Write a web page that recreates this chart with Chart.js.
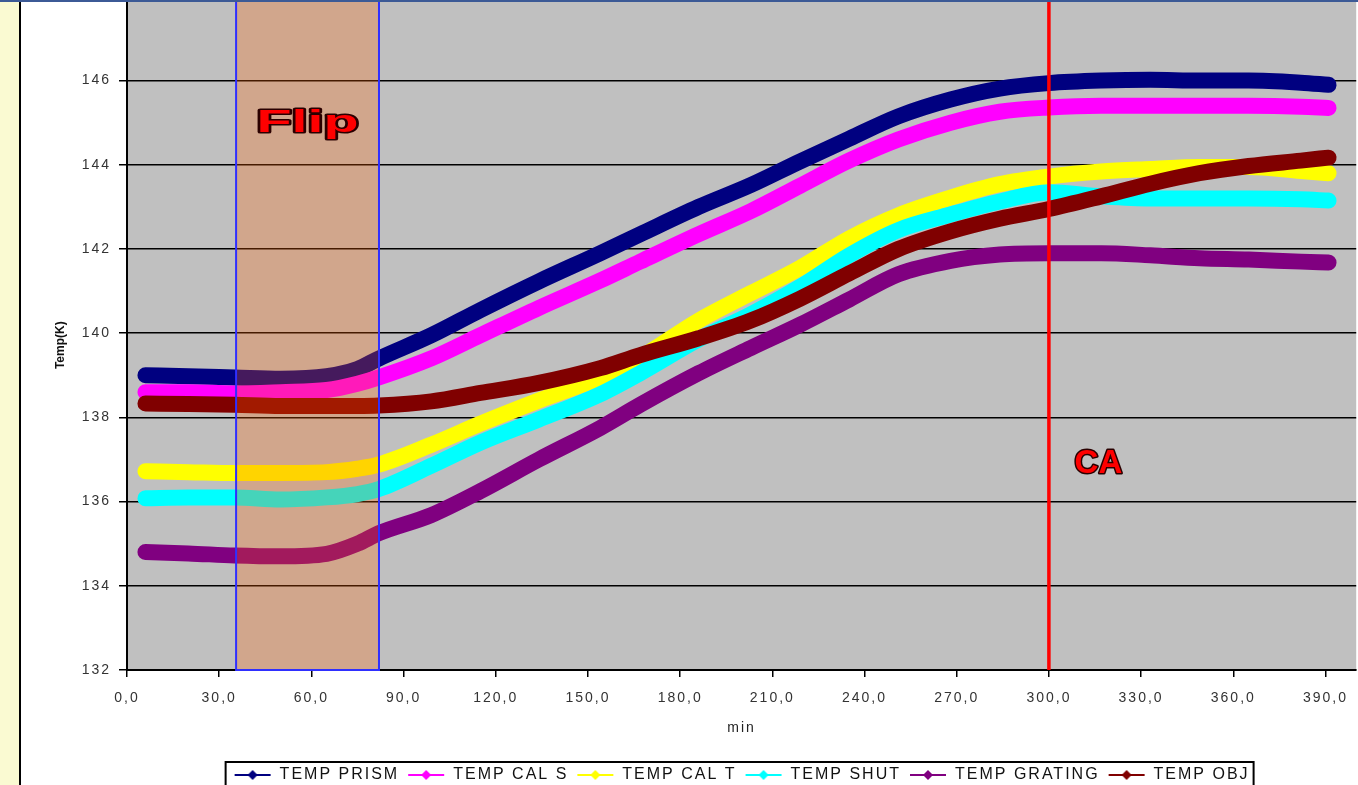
<!DOCTYPE html>
<html><head><meta charset="utf-8">
<script src="https://cdn.jsdelivr.net/npm/chart.js@4/dist/chart.umd.min.js"></script>
<style>
html,body{margin:0;padding:0;width:1358px;height:785px;overflow:hidden;background:#FAFAD2;}
#panel{position:absolute;left:19px;top:0;width:1339px;height:785px;background:#fff;border-left:2px solid #000;box-sizing:border-box;}
#topline{position:absolute;left:0;top:0;width:1358px;height:2px;background:#3c5a96;}
#wrap{position:absolute;left:0;top:-20px;width:1361px;height:830px;}
</style></head><body>
<div id="panel"></div>
<div id="wrap"><canvas id="c" width="1361" height="830"></canvas></div>
<div id="topline"></div>
<script>
// time (min)
const times   = [6, 20, 35, 50, 65, 75, 82, 99, 115, 134, 154, 167, 186, 203, 219, 235, 251, 268, 284, 300, 317, 333, 349, 365, 382, 391];
const prism   = [139.0,138.98,138.95,138.92,138.98,139.15, 139.4,139.95,140.55,141.23,141.9,142.35,143.0,143.52,144.08,144.62,145.15,145.55,145.81,145.94,146.0,146.02,146.0,146.0,145.95,145.9];
const calS    = [138.6,138.6,138.57,138.6,138.65,138.8, 138.95,139.4,139.95,140.6,141.25,141.7,142.35,142.9,143.5,144.1,144.6,145.0,145.26,145.36,145.4,145.4,145.4,145.4,145.38,145.35];
const calT    = [136.72,136.7,136.68,136.68,136.7,136.78, 136.88,137.35,137.85,138.4,138.95,139.42,140.3,140.95,141.55,142.25,142.8,143.22,143.54,143.72,143.84,143.9,143.95,143.95,143.85,143.8];
const shut    = [136.08,136.1,136.1,136.05,136.1,136.18, 136.3,136.85,137.4,137.95,138.55,139.05,139.85,140.45,141.1,141.85,142.45,142.82,143.13,143.35,143.25,143.2,143.2,143.2,143.18,143.15];
const grating = [134.8,134.77,134.72,134.7,134.76,135.0, 135.25,135.68,136.25,137.0,137.75,138.3,139.05,139.65,140.2,140.8,141.4,141.72,141.87,141.9,141.9,141.85,141.78,141.75,141.7,141.68];
const obj     = [138.33,138.32,138.3,138.27,138.27,138.27, 138.28,138.38,138.58,138.82,139.17,139.48,139.88,140.3,140.82,141.42,142.0,142.42,142.72,142.95,143.25,143.55,143.8,143.97,144.1,144.17];

const seriesNames  = ['TEMP PRISM','TEMP CAL S','TEMP CAL T','TEMP SHUT','TEMP GRATING','TEMP OBJ'];
const seriesValues = [prism, calS, calT, shut, grating, obj];
const seriesColors = ['#000080','#FF00FF','#FFFF00','#00FFFF','#800080','#800000'];

const xTicks = [0,30,60,90,120,150,180,210,240,270,300,330,360,390];
const yTicks = [132,134,136,138,140,142,144,146,148];
const FLIP_START = 35.5, FLIP_END = 82, CA_TIME = 300;
const yTitle = 'Temp(K)', xTitle = 'min';

const FONT = '"Liberation Sans", Arial, sans-serif';
const SPACING = '2px';

function markerImage(color){
  const c = document.createElement('canvas'); c.width = 38; c.height = 12;
  const g = c.getContext('2d');
  g.strokeStyle = color; g.lineWidth = 2;
  g.beginPath(); g.moveTo(1,6); g.lineTo(37,6); g.stroke();
  g.fillStyle = color;
  g.beginPath(); g.moveTo(19,1); g.lineTo(24,6); g.lineTo(19,11); g.lineTo(14,6); g.closePath(); g.fill();
  return c;
}
const markers = seriesColors.map(markerImage);

const spacing = {
  id:'spacing',
  beforeUpdate(chart){ chart.ctx.letterSpacing = SPACING; },
  beforeLayout(chart){ chart.ctx.letterSpacing = SPACING; },
  afterLayout(chart){
    const lg = chart.legend, a = chart.chartArea;
    const shift = (a.left + a.right) / 2 - (lg.left + lg.right) / 2;
    lg.left += shift; lg.right += shift;
  },
  beforeDraw(chart){
    const {ctx, chartArea:a} = chart;
    ctx.letterSpacing = SPACING;
    ctx.save();
    ctx.fillStyle = '#C0C0C0';
    ctx.fillRect(a.left, a.top, a.right - a.left, a.bottom - a.top);
    ctx.restore();
  }
};

function outlinedText(ctx, text, x, y, size, sx){
  ctx.save();
  ctx.letterSpacing = '0px';
  ctx.translate(x, y);
  ctx.scale(sx, 1);
  ctx.font = 'bold ' + size + 'px ' + FONT;
  ctx.textAlign = 'center';
  ctx.textBaseline = 'alphabetic';
  ctx.lineJoin = 'round';
  ctx.lineWidth = 3;
  ctx.strokeStyle = '#2a0000';
  ctx.strokeText(text, 0, 0);
  ctx.fillStyle = '#FF0000';
  ctx.fillText(text, 0, 0);
  ctx.restore();
}

const annot = {
  id:'annot',
  afterDatasetsDraw(chart){
    const {ctx, chartArea:a, scales:{x, y}} = chart;
    ctx.save();
    const x1 = x.getPixelForValue(FLIP_START), x2 = x.getPixelForValue(FLIP_END);
    ctx.fillStyle = 'rgba(255,95,0,0.27)';
    ctx.fillRect(x1, a.top, x2 - x1, a.bottom - a.top);
    ctx.strokeStyle = '#2f2fff'; ctx.lineWidth = 2;
    ctx.strokeRect(x1, a.top, x2 - x1, a.bottom - a.top);
    const xc = x.getPixelForValue(CA_TIME);
    ctx.strokeStyle = '#FF0000'; ctx.lineWidth = 3.5;
    ctx.beginPath(); ctx.moveTo(xc, a.top); ctx.lineTo(xc, a.bottom); ctx.stroke();
    ctx.restore();
    outlinedText(ctx, 'Flip', (x1 + x2) / 2, y.getPixelForValue(144.79), 31, 1.85);
    outlinedText(ctx, 'CA', x.getPixelForValue(316.1), y.getPixelForValue(136.67), 33, 1.0);
  },
  afterDraw(chart){
    const {ctx, chartArea:a} = chart;
    ctx.save();
    ctx.letterSpacing = '0px';
    ctx.translate(a.left - 66, (a.top + a.bottom) / 2 + 12);
    ctx.rotate(-Math.PI / 2);
    ctx.font = 'bold 12px ' + FONT;
    ctx.fillStyle = '#111';
    ctx.textAlign = 'center'; ctx.textBaseline = 'middle';
    ctx.fillText(yTitle, 0, 0);
    ctx.restore();
    const boxes = chart.legend.legendHitBoxes;
    if (boxes && boxes.length){
      const last = boxes[boxes.length - 1];
      const l = boxes[0].left - 8, r = last.left + last.width + 4;
      const t = boxes[0].top - 5;
      ctx.save();
      ctx.strokeStyle = '#000'; ctx.lineWidth = 2;
      ctx.strokeRect(l, t, r - l, 40);
      ctx.restore();
    }
  }
};

const chart = new Chart(document.getElementById('c'), {
  type: 'line',
  data: {
    datasets: seriesNames.map((n, i) => ({
      label: n,
      data: times.map((t, j) => ({x: t, y: seriesValues[i][j]})),
      borderColor: seriesColors[i],
      backgroundColor: seriesColors[i],
      borderWidth: 16,
      pointRadius: 0,
      cubicInterpolationMode: 'monotone',
      borderCapStyle: 'round',
      borderJoinStyle: 'round',
      fill: false,
      order: 5 - i
    }))
  },
  options: {
    responsive: false,
    animation: false,
    layout: { padding: { left: 20, right: 0, top: 15, bottom: 17 } },
    plugins: {
      tooltip: { enabled: false },
      legend: {
        position: 'bottom',
        labels: {
          usePointStyle: true,
          pointStyleWidth: 38,
          boxHeight: 12,
          padding: 8,
          color: '#111',
          font: { family: FONT, size: 16 },
          generateLabels: (ch) => seriesNames.map((n, i) => ({
            text: n, datasetIndex: i, hidden: false,
            fillStyle: seriesColors[i], strokeStyle: seriesColors[i], lineWidth: 0,
            pointStyle: markers[i], fontColor: '#111'
          }))
        }
      }
    },
    scales: {
      x: {
        type: 'linear', min: 0, max: 400,
        afterBuildTicks: s => { s.ticks = xTicks.map(v => ({value: v})); },
        afterFit: s => { s.height = 89; },
        grid: { drawOnChartArea: false, drawTicks: true, tickLength: 7, color: '#000', lineWidth: 1.5 },
        border: { color: '#000', width: 2 },
        ticks: { padding: 13, maxRotation: 0, autoSkip: false, color: '#333',
                 font: { family: FONT, size: 14 },
                 callback: v => v.toFixed(1).replace('.', ',') },
        title: { display: true, text: xTitle, color: '#222', font: { family: FONT, size: 14 },
                 padding: { top: 0, bottom: 22 } }
      },
      y: {
        type: 'linear', min: 132, max: 148,
        afterBuildTicks: s => { s.ticks = yTicks.map(v => ({value: v})); },
        afterFit: s => { s.width = 107; },
        grid: { color: '#000', lineWidth: 1.5, tickLength: 8, drawTicks: true },
        border: { color: '#000', width: 2 },
        ticks: { padding: 8, color: '#333', font: { family: FONT, size: 14 } }
      }
    }
  },
  plugins: [spacing, annot]
});
</script>
</body></html>
